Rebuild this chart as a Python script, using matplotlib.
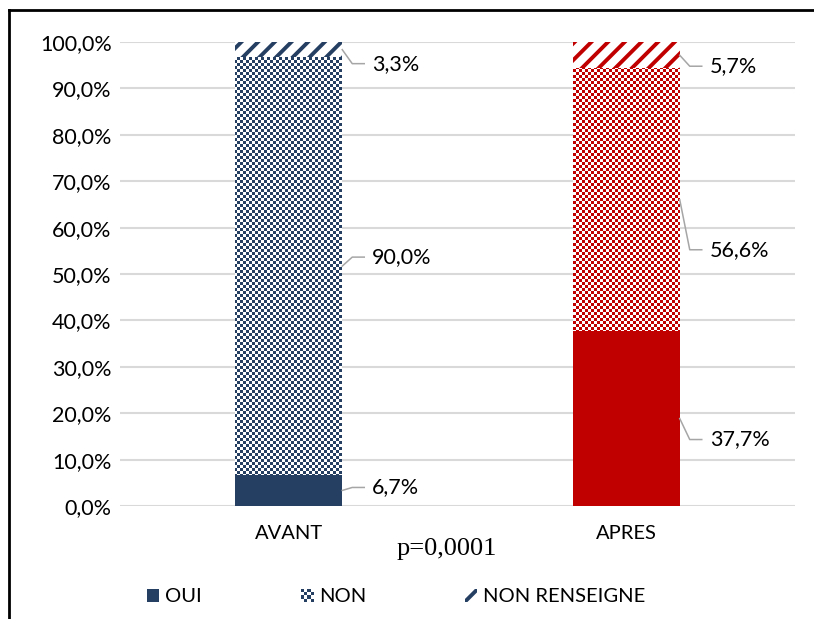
import numpy as np
import matplotlib
matplotlib.use("Agg")
import matplotlib.pyplot as plt
from matplotlib.patches import Patch
from matplotlib.lines import Line2D
from matplotlib.image import BboxImage
from matplotlib.transforms import Bbox, TransformedBbox
from matplotlib.legend_handler import HandlerPatch

# données
categories = ["AVANT", "APRES"]
oui = [6.7, 37.7]
non = [90.0, 56.6]
non_renseigne = [3.3, 5.7]
series_names = ["OUI", "NON", "NON RENSEIGNE"]
p_text = "p=0,0001"

colors = ["#253F62", "#C00000"]
grid_col = "#D9D9D9"
leader_col = "#A6A6A6"

# décalage vertical des étiquettes (px, vers le bas), par barre et par segment
label_dy_px = [[-3, -9, 14], [21, 50, 11]]

W, H = 814, 619
plt.rcParams["font.family"] = ["Lato", "DejaVu Sans"]
plt.rcParams["hatch.linewidth"] = 2.8
fs_num = 15.5
fs_txt = 14.5

fig = plt.figure(figsize=(W / 100, H / 100), dpi=100)
ax_l, ax_r, ax_t, ax_b = 120, 795, 42, 506
ax = fig.add_axes([ax_l / W, 1 - ax_b / H, (ax_r - ax_l) / W, (ax_b - ax_t) / H])
ax.set_xlim(-0.5, 1.5)
ax.set_ylim(0, 100)


def checker(color, nx, ny, sq=3):
    rgb = np.array(matplotlib.colors.to_rgb(color))
    yy, xx = np.mgrid[0:ny, 0:nx]
    mask = ((xx // sq) + (yy // sq)) % 2 == 0
    img = np.ones((ny, nx, 3))
    img[mask] = rgb
    return img


x = np.arange(len(categories))
bw = 0.317
axw_px = ax_r - ax_l
axh_px = ax_b - ax_t

for i in range(len(categories)):
    c = colors[i]
    ax.bar(x[i], oui[i], bw, color=c, linewidth=0, zorder=3)
    nb = ax.bar(x[i], non[i], bw, bottom=oui[i], facecolor="none", linewidth=0, zorder=3)
    im = ax.imshow(checker(c, axw_px, axh_px), extent=(0, 1, 0, 1), transform=ax.transAxes,
                   aspect="auto", interpolation="nearest", zorder=3)
    im.set_clip_path(nb.patches[0])
    ax.bar(x[i], non_renseigne[i], bw, bottom=oui[i] + non[i], facecolor="white",
           edgecolor=c, hatch="//", linewidth=0, zorder=3)

ax.set_xlim(-0.5, 1.5)
ax.set_ylim(0, 100)

# étiquettes avec lignes de rappel
fig.canvas.draw()
inv = ax.transData.inverted()
for i in range(len(categories)):
    vals = [oui[i], non[i], non_renseigne[i]]
    bottoms = [0, oui[i], oui[i] + non[i]]
    for j, v in enumerate(vals):
        yc = bottoms[j] + v / 2
        px, py = ax.transData.transform((x[i] + bw / 2, yc))
        dy = -label_dy_px[i][j]
        pts = [(px, py), (px + 10, py + dy), (px + 22, py + dy)]
        d = inv.transform(pts)
        ax.plot(d[:, 0], d[:, 1], color=leader_col, lw=1.1, zorder=4, clip_on=False)
        tx, ty = inv.transform((px + 30, py + dy))
        ax.text(tx, ty, f"{v:.1f}%".replace(".", ","), fontsize=fs_num, va="center",
                ha="left", color="#000000")

ax.set_yticks(np.arange(0, 101, 10))
ax.set_yticklabels([f"{t:.1f}%".replace(".", ",") for t in np.arange(0, 101, 10)], fontsize=fs_num)
ax.set_xticks(x)
ax.set_xticklabels(categories, fontsize=fs_txt)
ax.tick_params(length=0)
ax.tick_params(axis="y", pad=6)
ax.tick_params(axis="x", pad=14)
ax.grid(axis="y", color=grid_col, lw=1.5, zorder=0)
ax.set_axisbelow(True)
for s in ax.spines.values():
    s.set_visible(False)

fig.text(447 / W, 1 - 549 / H, p_text, family="Liberation Serif", fontsize=19,
         ha="center", va="center")


class CheckerHandler(HandlerPatch):
    def create_artists(self, legend, orig_handle, xdescent, ydescent, width, height, fontsize, trans):
        bb = TransformedBbox(Bbox.from_bounds(-xdescent, -ydescent, width, height), trans)
        img = BboxImage(bb, interpolation="nearest")
        img.set_data(checker(colors[0], 4, 4, sq=1))
        return [img]


handles = [Patch(facecolor=colors[0], linewidth=0),
           Patch(facecolor="white"),
           Patch(facecolor="white", edgecolor=colors[0], hatch="//", linewidth=0)]
leg = fig.legend(handles, series_names, loc="center left", ncol=3,
                 bbox_to_anchor=(147 / W, 1 - 597 / H), frameon=False, fontsize=fs_txt,
                 handlelength=0.6, handleheight=0.6, handletextpad=0.3,
                 columnspacing=4.9, borderpad=0, borderaxespad=0,
                 handler_map={handles[1]: CheckerHandler()})

# cadre
fig.add_artist(Line2D([9 / W, 9 / W], [0, 1 - 10 / H], color="black", lw=2))
fig.add_artist(Line2D([9 / W, 1], [1 - 10 / H, 1 - 10 / H], color="black", lw=2))

fig.savefig("out.png", dpi=100)
